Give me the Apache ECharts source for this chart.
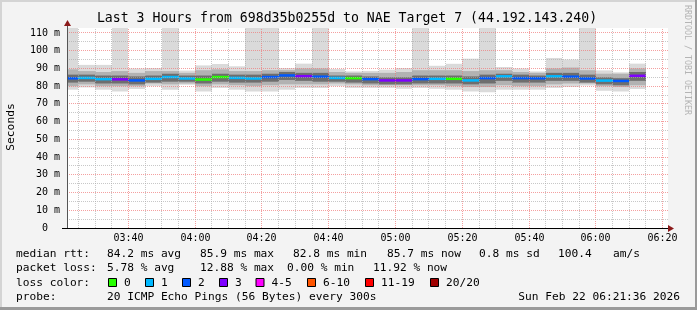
<!DOCTYPE html>
<html><head><meta charset="utf-8">
<script src="https://cdn.jsdelivr.net/npm/echarts@6/dist/echarts.min.js"></script>
<style>html,body{margin:0;padding:0;background:#f3f3f3}#c{width:697px;height:310px}</style>
</head><body><div id="c"></div>
<script>
// ---- data ----
const graphStart = '03:21:36';
const graphEnd = '06:21:36';
const intervalEnds = ['03:25','03:30','03:35','03:40','03:45','03:50','03:55','04:00','04:05','04:10',
  '04:15','04:20','04:25','04:30','04:35','04:40','04:45','04:50','04:55','05:00',
  '05:05','05:10','05:15','05:20','05:25','05:30','05:35','05:40','05:45','05:50',
  '05:55','06:00','06:05','06:10','06:15'];
const medianRtt = [84.3,84.5,83.8,83.7,83.1,84.0,85.0,84.2,83.6,85.0,
  84.5,84.2,85.0,85.9,85.5,85.2,84.5,84.4,83.8,83.1,
  83.1,83.8,84.0,84.0,83.1,84.4,85.4,84.4,84.3,85.4,
  85.2,84.2,83.0,82.8,85.7];
const lossPings = [2,1,1,3,2,1,1,1,0,0,
  1,1,2,2,3,2,1,0,2,3,
  3,2,1,0,1,2,1,2,2,1,
  2,2,1,2,3];
const rttMax = [125,92,92,125,90,90.2,125,88.8,91.7,92.5,
  91.2,125,125,90.2,92.7,125,89.7,88.3,88.6,89.3,
  90.2,125,91.5,92.6,95.5,125,90.8,90,88.3,95.9,
  95,125,88.9,87.8,92.7];
const rttMin = [78,79.3,78,77,78.4,80,78,80.8,77,79,
  78,77,77,78,79,79,80,79,79,79,
  78.5,79,78.5,78,77,76.5,78,78,78,79,
  79.5,80.3,77.4,77,78.4];
const outerHi = [89.5,88.5,88,88.5,87.5,88.5,88.5,87.5,89,89.5,
  88.5,88.5,89,89,90,90,88,87.5,87.5,87.5,
  88,89,89,89,88.5,89,89,88,87.5,90,
  90.5,89,87,87,90];
const outerLo = [80,81,80,80,80,81.5,81,81.5,80,81,
  80.5,80,80.5,81,81,81,81.5,81,80.5,80.5,
  80.5,80.5,80.5,80,79.5,79.5,80.5,80,80,81,
  81.5,81.5,80,79.5,80.5];
const innerHi = [86.5,86.5,86,86,85.5,86,87,86,86,87,
  86.5,86.5,87,88,87.5,87.5,86,86,85.5,85,
  85,86,86,86,85.5,86.5,87,86.5,86,87.5,
  87.5,86.5,85,84.5,88];
const innerLo = [82,82.5,81.5,81.5,81,82,82.5,82.5,81.5,82.5,
  82,82,82.5,83.5,83,82.5,82.5,82,81.5,81,
  81,81.5,81.5,81.5,81,81.5,83,82,82,83,
  83,82,81,80.5,83];
const xTickLabels = ['03:40','04:00','04:20','04:40','05:00','05:20','05:40','06:00','06:20'];
const yTickValues = [0,10,20,30,40,50,60,70,80,90,100,110];
const lossLegend = ['0','1','2','3','4-5','6-10','11-19','20/20'];
const lossColors = ['#26ff00','#00b8ff','#0059ff','#7e00ff','#ff00ff','#ff5500','#ff0000','#a00000'];

// ---- helpers ----
function toMin(s){ const p=s.split(':').map(Number); return p[0]*60+p[1]+(p[2]||0)/60; }
const AXIS_MIN = toMin(graphStart), AXIS_MAX = toMin(graphEnd);
const Y_MAX = 112.8;
function lossColor(n){
  if(n<=0) return lossColors[0];
  if(n<=1) return lossColors[1];
  if(n<=2) return lossColors[2];
  if(n<=3) return lossColors[3];
  if(n<=5) return lossColors[4];
  if(n<=10) return lossColors[5];
  if(n<=19) return lossColors[6];
  return lossColors[7];
}

const smokeData = intervalEnds.map((t,i)=>{
  const e = toMin(t);
  return [Math.max(e-5, AXIS_MIN), e, rttMin[i], outerLo[i], innerLo[i], medianRtt[i], innerHi[i], outerHi[i], rttMax[i], lossPings[i]];
});

// grid line definitions (vertical every 5 min, horizontal every 5 ms)
const gridItems = [];
const majorX = xTickLabels.map(toMin);
for(let t=Math.ceil(AXIS_MIN/5)*5; t<=AXIS_MAX; t+=5){
  const mi = majorX.indexOf(t);
  gridItems.push({kind:0, v:t, major: mi>=0, label: mi>=0 ? xTickLabels[mi] : null});
}
for(let v=5; v<Y_MAX; v+=5){
  gridItems.push({kind:1, v:v, major: yTickValues.indexOf(v)>=0});
}

function renderSmoke(params, api){
  const s=api.value(0), e=api.value(1);
  const x0=Math.round(api.coord([s,0])[0]), x1=Math.round(api.coord([e,0])[0]);
  const yc = v => api.coord([s, Math.min(v, Y_MAX)])[1];
  const rect=(lo,hi,fill)=>({type:'rect', shape:{x:x0,y:yc(hi),width:x1-x0,height:yc(lo)-yc(hi)}, style:{fill:fill}});
  const m = yc(api.value(5));
  return {type:'group', children:[
    rect(api.value(2), api.value(8), '#dadada'),
    rect(api.value(3), api.value(7), '#b2b2b2'),
    rect(api.value(4), api.value(6), '#6e6e6e'),
    {type:'rect', shape:{x:x0, y:m-1.5, width:x1-x0, height:2.5}, style:{fill: lossColor(api.value(9))}}
  ]};
}

function renderGrid(params, api){
  const g = gridItems[params.dataIndex];
  const color = g.major ? 'rgba(240,120,120,0.7)' : 'rgba(170,170,170,0.65)';
  const children = [];
  if(g.kind===0){
    const p0=api.coord([g.v,0]), p1=api.coord([g.v,Y_MAX]);
    const x=Math.floor(p0[0])+0.5;
    children.push({type:'line', shape:{x1:x,y1:p0[1],x2:x,y2:p1[1]}, style:{stroke:color,lineWidth:1,lineDash:[1,1]}});
    if(g.label){
      children.push({type:'text', x:x, y:p0[1]+10, style:{text:g.label, font:'10px "DejaVu Sans Mono"', fill:'#000', textAlign:'center', textVerticalAlign:'middle'}});
    }
  } else {
    const p0=api.coord([AXIS_MIN,g.v]), p1=api.coord([AXIS_MAX,g.v]);
    const y=Math.floor(p0[1])+0.5;
    children.push({type:'line', shape:{x1:p0[0],y1:y,x2:p1[0]+1,y2:y}, style:{stroke:color,lineWidth:1,lineDash:[1,1]}});
  }
  return {type:'group', children:children};
}

// ---- text / legend decoration ----
const MONO = '"DejaVu Sans Mono"';
const graphics = [];
function txt(s, x, y, size, opts){
  graphics.push(Object.assign({type:'text', x:x, y:y, silent:true,
    style:{text:s, font:size+'px '+MONO, fill:'#000', textAlign:'left', textVerticalAlign:'middle'}}, opts||{}));
}
// frame
graphics.push({type:'rect', shape:{x:0,y:0,width:697,height:2}, style:{fill:'#d4d4d4'}});
graphics.push({type:'rect', shape:{x:0,y:0,width:2,height:310}, style:{fill:'#d4d4d4'}});
graphics.push({type:'rect', shape:{x:695,y:0,width:2,height:310}, style:{fill:'#9a9a9a'}});
graphics.push({type:'rect', shape:{x:0,y:307,width:697,height:3}, style:{fill:'#9a9a9a'}});
// axes lines + arrows
graphics.push({type:'line', shape:{x1:67.5,y1:229,x2:67.5,y2:22}, style:{stroke:'#555',lineWidth:1}, z:10});
graphics.push({type:'line', shape:{x1:62,y1:228.5,x2:670,y2:228.5}, style:{stroke:'#000',lineWidth:1}, z:10});
graphics.push({type:'polygon', shape:{points:[[64,26],[67.5,20],[71,26]]}, style:{fill:'#8b1a1a'}, z:10});
graphics.push({type:'polygon', shape:{points:[[668,225],[674,228.5],[668,232]]}, style:{fill:'#8b1a1a'}, z:10});
// title
graphics.push({type:'text', x:347, y:19, style:{text:'Last 3 Hours from 698d35b0255d to NAE Target 7 (44.192.143.240)', font:'13.2px '+MONO, fill:'#000', textAlign:'center', textVerticalAlign:'middle'}});
// y title
graphics.push({type:'text', x:11, y:127, rotation:Math.PI/2, style:{text:'Seconds', font:'11.3px '+MONO, fill:'#000', textAlign:'center', textVerticalAlign:'middle'}});
// watermark
graphics.push({type:'text', x:687, y:60, rotation:-Math.PI/2, style:{text:'RRDTOOL / TOBI OETIKER', font:'8.3px '+MONO, fill:'#b4b4b4', textAlign:'center', textVerticalAlign:'middle'}});
// legend text lines
const FS = 11.2;
txt('median rtt:', 16, 254.5, FS);
txt('84.2 ms avg', 107, 254.5, FS);
txt('85.9 ms max', 200, 254.5, FS);
txt('82.8 ms min', 293, 254.5, FS);
txt('85.7 ms now', 387, 254.5, FS);
txt('0.8 ms sd', 479, 254.5, FS);
txt('100.4', 558, 254.5, FS);
txt('am/s', 613, 254.5, FS);
txt('packet loss:', 16, 268.5, FS);
txt('5.78 % avg', 107, 268.5, FS);
txt('12.88 % max', 200, 268.5, FS);
txt('0.00 % min', 287, 268.5, FS);
txt('11.92 % now', 373, 268.5, FS);
txt('loss color:', 16, 282.7, FS);
const boxX = [108.5,145.5,182.5,219.5,256,307.5,365.5,430.5];
lossLegend.forEach((lab,i)=>{
  graphics.push({type:'rect', shape:{x:boxX[i],y:278.5,width:8,height:8}, style:{fill:lossColors[i], stroke:'#000', lineWidth:1}});
  txt(lab, boxX[i]+15.5, 282.7, FS);
});
txt('probe:', 16, 296.7, FS);
txt('20 ICMP Echo Pings (56 Bytes) every 300s', 107, 296.7, FS);
graphics.push({type:'text', x:680, y:296.7, style:{text:'Sun Feb 22 06:21:36 2026', font:FS+'px '+MONO, fill:'#000', textAlign:'right', textVerticalAlign:'middle'}});

const chart = echarts.init(document.getElementById('c'), null, {renderer:'canvas'});
chart.setOption({
  animation:false,
  backgroundColor:'#f3f3f3',
  grid:{left:67, top:28, width:601, height:200, show:true, backgroundColor:'#ffffff', borderWidth:0},
  xAxis:{type:'value', min:AXIS_MIN, max:AXIS_MAX, axisLine:{show:false}, axisTick:{show:false}, axisLabel:{show:false}, splitLine:{show:false}},
  yAxis:{type:'value', min:0, max:Y_MAX, interval:10, axisLine:{show:false}, axisTick:{show:false}, splitLine:{show:false},
    axisLabel:{showMaxLabel:false, margin:7, color:'#000', fontFamily:'DejaVu Sans Mono', fontSize:10,
      formatter:v=> v===0 ? '0  ' : (v+' m')}},
  series:[
    {type:'custom', name:'smoke', renderItem:renderSmoke, data:smokeData, clip:true, z:2, silent:true},
    {type:'custom', name:'grid', renderItem:renderGrid, data:gridItems.map((g,i)=>[i]), clip:false, z:3, silent:true}
  ],
  graphic:{elements:graphics}
});
</script></body></html>
